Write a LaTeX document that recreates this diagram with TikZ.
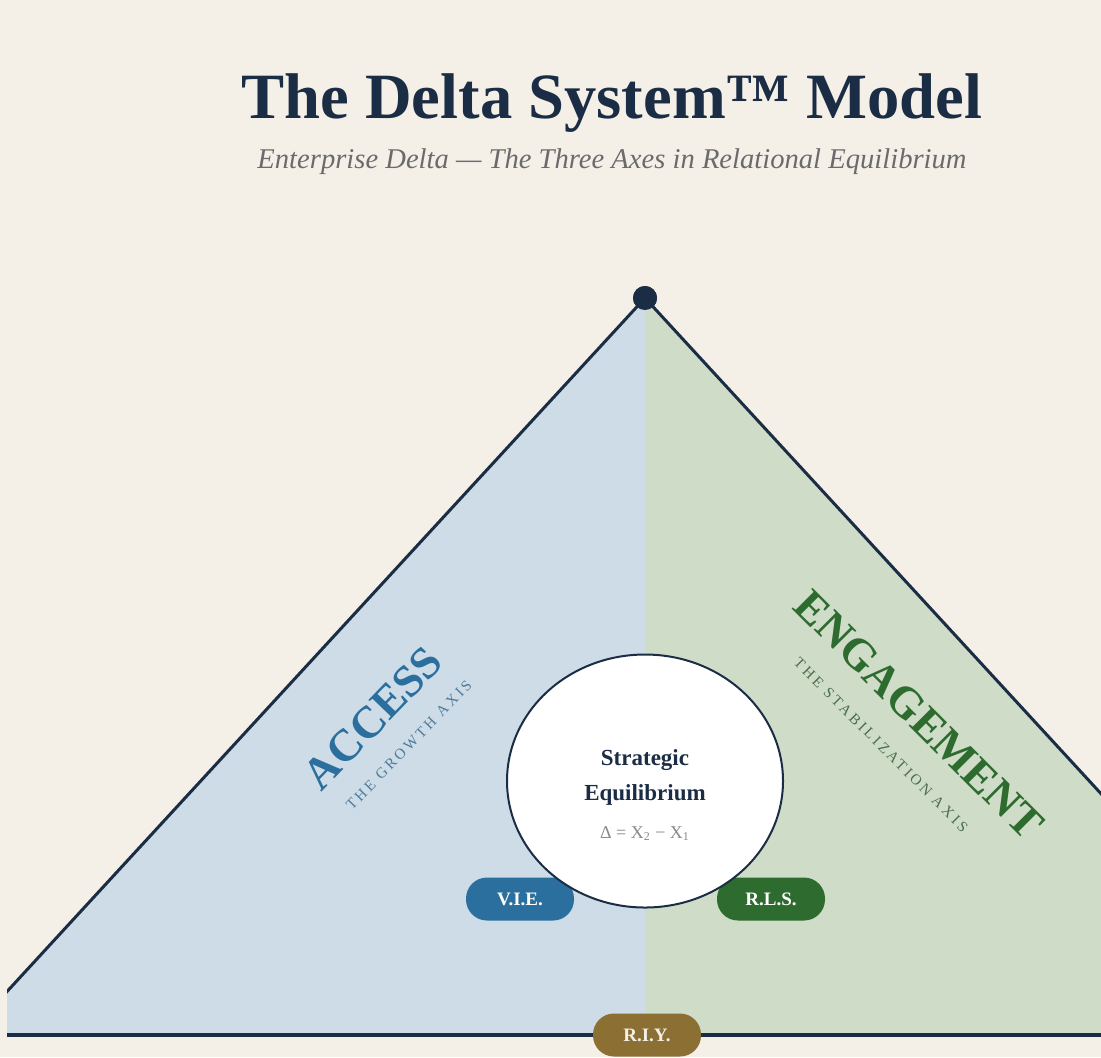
\documentclass[tikz,border=0pt]{standalone}
\usepackage{fontspec}
\setmainfont{Liberation Serif}
\usepackage{tikz}
\usetikzlibrary{positioning,shapes.geometric}

\definecolor{navy}{HTML}{1B2D45}
\definecolor{paper}{HTML}{F4F0E8}
\definecolor{accessfill}{HTML}{CDDCE6}
\definecolor{engagefill}{HTML}{CFDDC8}
\definecolor{accessblue}{HTML}{2A6F9E}
\definecolor{accessgray}{HTML}{4F7C9C}
\definecolor{engagegreen}{HTML}{2E6B2E}
\definecolor{engagegray}{HTML}{4E6E4E}
\definecolor{riygold}{HTML}{8B6F33}
\definecolor{subgray}{HTML}{6B6B6B}

\tikzset{
    pill/.style={rounded corners=10.5pt,minimum width=54pt,minimum height=21.5pt,inner sep=0pt,text=white,font=\bfseries\fontsize{9.5}{11}\selectfont},
    axisname/.style={font=\bfseries\fontsize{22.5}{26}\selectfont},
    axistag/.style={font=\fontsize{7.5}{9}\selectfont\addfontfeature{LetterSpace=20}},
}

\begin{document}
\begin{tikzpicture}[x=0.5pt,y=-0.5pt]
    % paper
    \fill[paper] (0,0) rectangle (1101,1057);

    % heading
    \node [text=navy,font=\bfseries\fontsize{32.3}{38}\selectfont] (title) at (612,103) {The Delta System™ Model};
    \node [text=subgray,font=\itshape\fontsize{14.3}{17}\selectfont] (subtitle) at (612,162) {Enterprise Delta — The Three Axes in Relational Equilibrium};

    % the delta
    \node [circle,fill=navy,minimum size=12pt,inner sep=0pt] (apex) at (645,298) {};
    \coordinate (baseL) at (-33,1035);
    \coordinate (baseR) at (1323,1035);
    \coordinate (baseM) at (645,1035);
    \begin{scope}
        \clip (7,0) rectangle (1101,1057);
        \fill[accessfill] (apex.center) -- (baseL) -- (baseM) -- cycle;
        \fill[engagefill] (apex.center) -- (baseR) -- (baseM) -- cycle;
        \draw[navy,line width=1.5pt,line join=round] (baseL) -- (apex.center) -- (baseR);
        \draw[navy,line width=2pt] (baseL) -- (baseR);
    \end{scope}
    \node [circle,fill=navy,minimum size=12pt,inner sep=0pt] at (apex) {};

    % axes
    \node [axisname,text=accessblue,rotate=46] (access) at (373,718) {ACCESS};
    \node [axistag,text=accessgray,rotate=46] (accesstag) at (409,745) {THE GROWTH AXIS};
    \node [axisname,text=engagegreen,rotate=-45] (engage) at (919,715) {ENGAGEMENT};
    \node [axistag,text=engagegray,rotate=-45] (engagetag) at (881,745) {THE STABILIZATION AXIS};

    % badges
    \node [pill,fill=accessblue] (vie) at (520,899) {V.I.E.};
    \node [pill,fill=engagegreen] (rls) at (771,899) {R.L.S.};
    \node [pill,fill=riygold,text=paper] (riy) at (647,1035) {R.I.Y.};

    % centre
    \node [ellipse,draw=navy,fill=white,line width=1pt,minimum width=138pt,minimum height=126.5pt] (eq) at (645,781) {};
    \node [text=navy,align=center,font=\bfseries\fontsize{11.5}{17.5}\selectfont] (eqname) at (645,777) {Strategic\\Equilibrium};
    \node [text=subgray!80,font=\fontsize{9}{11}\selectfont] (eqdelta) at (645,834) {Δ = X\textsubscript{2} − X\textsubscript{1}};
\end{tikzpicture}
\end{document}
